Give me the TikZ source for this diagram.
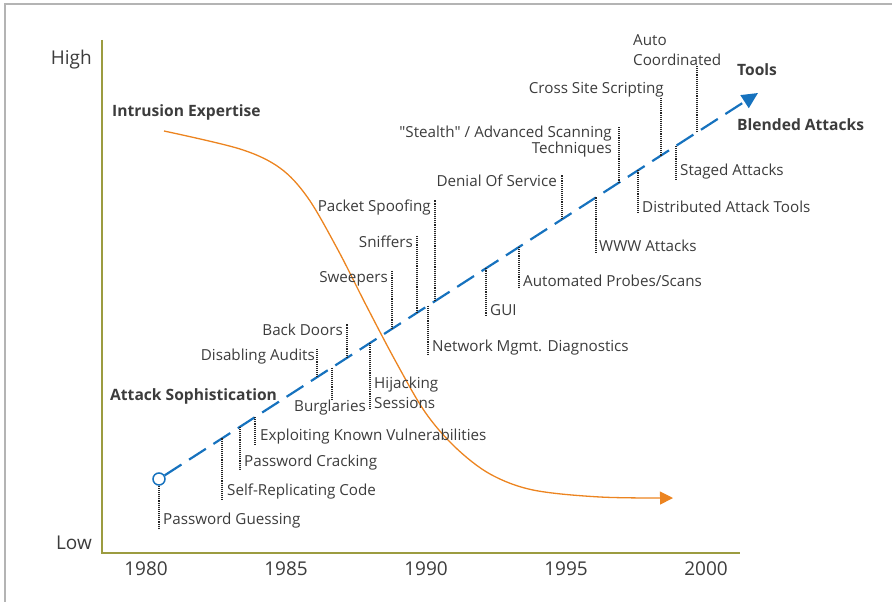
\documentclass[tikz,border=0pt]{standalone}
\usepackage{fontspec}
\setmainfont{Open Sans}
\usepackage{tikz}
\usetikzlibrary{positioning}
\usetikzlibrary{calc}
\usetikzlibrary{arrows.meta}
\definecolor{txtgray}{HTML}{3C3C3C}
\definecolor{axisolive}{HTML}{9C9C40}
\definecolor{trendblue}{HTML}{1672BE}
\definecolor{skillorange}{HTML}{EC8420}
\definecolor{framegray}{HTML}{B4B4B4}

\tikzset{
  lbl/.style={text=txtgray, font=\fontsize{15.2}{20}\selectfont, inner sep=0pt},
  hdr/.style={text=txtgray, font=\fontsize{15.6}{18}\selectfont\bfseries, inner sep=0pt},
  big/.style={text=txtgray, font=\fontsize{19}{20}\selectfont, inner sep=0pt},
  tick/.style={densely dotted, line width=1.1pt, black!85},
}

\begin{document}
\begin{tikzpicture}[x=1pt,y=-1pt]
  \useasboundingbox (0,0) rectangle (892,602);
  \draw[framegray, line width=1.5pt] (5,602) -- (5,4) -- (892,4);

  \coordinate (ytop) at (102,40);
  \coordinate (origin) at (102,553);
  \coordinate (xend) at (740,553);
  \draw[axisolive, line width=2pt] (ytop) -- (origin) -- (xend);

  \node[big,anchor=east] (high) at (92,60) {High};
  \node[big,anchor=east] (low) at (92,543) {Low};
  \node[big] (y1980) at (146,569) {1980};
  \node[big] (y1985) at (286,569) {1985};
  \node[big] (y1990) at (426,569) {1990};
  \node[big] (y1995) at (566,569) {1995};
  \node[big] (y2000) at (706,569) {2000};

  \node[hdr,anchor=west] (expertise) at (112,112) {Intrusion Expertise};
  \node[hdr,anchor=west] (sophist) at (110,396) {Attack Sophistication};
  \node[hdr,anchor=west] (tools) at (737,70) {Tools};
  \node[hdr,anchor=west] (blended) at (737,125) {Blended Attacks};

  \draw[skillorange, line width=1.3pt, -{Triangle[length=13pt,width=13pt]}]
    plot[smooth, tension=0.55] coordinates {(164,131) (240,149) (280,168) (308,198)
      (338,250) (366,305) (396,362) (425,412) (455,447) (490,474) (533,490)
      (600,497) (673,498)};

  \node[circle, draw=trendblue, fill=white, line width=1.5pt, minimum size=12pt, inner sep=0pt] (start) at (159,479) {};
  \coordinate (tip) at (758,93);
  \draw[trendblue, line width=2.2pt, dash pattern=on 20pt off 9pt, -{Triangle[length=16pt,width=15pt]}] (start) -- (tip);

  \coordinate (f1) at (222,438.4);
  \coordinate (f2) at (240,426.8);
  \coordinate (f3) at (255,417.1);
  \coordinate (f4) at (317,377.2);
  \coordinate (f5) at (332,367.5);
  \coordinate (f6) at (347,357.9);
  \coordinate (f7) at (370,343.0);
  \coordinate (f8) at (392,328.9);
  \coordinate (f9) at (417,312.7);
  \coordinate (f10) at (428,305.7);
  \coordinate (f11) at (435,301.1);
  \coordinate (f12) at (486,268.3);
  \coordinate (f13) at (519,247.0);
  \coordinate (f14) at (562,219.3);
  \coordinate (f15) at (596,197.4);
  \coordinate (f16) at (619,182.6);
  \coordinate (f17) at (638,170.3);
  \coordinate (f18) at (661,155.5);
  \coordinate (f19) at (676,145.8);
  \coordinate (f20) at (697,132.3);

  \node[lbl,anchor=west] (guess) at (163,521) {Password Guessing};
  \node[lbl,anchor=west] (selfrep) at (227,492) {Self-Replicating Code};
  \node[lbl,anchor=west] (crack) at (244,463) {Password Cracking};
  \node[lbl,anchor=west] (exploit) at (260,437) {Exploiting Known Vulnerabilities};
  \node[lbl,anchor=east] (audits) at (315,357) {Disabling Audits};
  \node[lbl] (burgl) at (330,408) {Burglaries};
  \node[lbl,anchor=east] (backdoor) at (343,330) {Back Doors};
  \node[lbl,anchor=west,align=left] (hijack) at (374,393) {Hijacking\\Sessions};
  \node[lbl,anchor=east] (sweep) at (388,279) {Sweepers};
  \node[lbl,anchor=east] (sniff) at (413,242) {Sniffers};
  \node[lbl,anchor=west] (netmgmt) at (432,348) {Network Mgmt. Diagnostics};
  \node[lbl,anchor=east] (spoof) at (431,208) {Packet Spoofing};
  \node[lbl,anchor=west] (gui) at (490,310) {GUI};
  \node[lbl,anchor=west] (probes) at (523,281) {Automated Probes/Scans};
  \node[lbl,anchor=east] (dos) at (557,181) {Denial Of Service};
  \node[lbl,anchor=west] (www) at (599,246) {WWW Attacks};
  \node[lbl,anchor=east,align=right,font=\fontsize{15.2}{16}\selectfont] (stealth) at (612,142) {\textquotedbl Stealth\textquotedbl{} / Advanced Scanning\\Techniques};
  \node[lbl,anchor=west] (distrib) at (642,207) {Distributed Attack Tools};
  \node[lbl,anchor=south east] (xss) at (664,97) {Cross Site Scripting};
  \node[lbl,anchor=west] (staged) at (680,172) {Staged Attacks};
  \node[lbl,anchor=west,align=left] (autoco) at (633,50) {Auto\\Coordinated};

  \draw[tick] (start) -- (start |- guess.south);
  \draw[tick] (f1) -- (f1 |- selfrep.south);
  \draw[tick] (f2) -- (f2 |- crack.south);
  \draw[tick] (f3) -- (f3 |- exploit.south);
  \draw[tick] (f4) -- (f4 |- audits.north);
  \draw[tick] (f5) -- (f5 |- burgl.north);
  \draw[tick] (f6) -- (f6 |- backdoor.north);
  \draw[tick] (f7) -- (f7 |- hijack.south);
  \draw[tick] (f8) -- (f8 |- sweep.north);
  \draw[tick] (f9) -- (f9 |- sniff.north);
  \draw[tick] (f10) -- (f10 |- netmgmt.south);
  \draw[tick] (f11) -- (f11 |- spoof.north);
  \draw[tick] (f12) -- (f12 |- gui.south);
  \draw[tick] (f13) -- (f13 |- probes.south);
  \draw[tick] (f14) -- (f14 |- dos.north);
  \draw[tick] (f15) -- (f15 |- www.south);
  \draw[tick] (f16) -- (f16 |- stealth.north);
  \draw[tick] (f17) -- (f17 |- distrib.south);
  \draw[tick] (f18) -- (f18 |- xss.south);
  \draw[tick] (f19) -- (f19 |- staged.south);
  \draw[tick] (f20) -- (f20 |- autoco.south);
\end{tikzpicture}
\end{document}
